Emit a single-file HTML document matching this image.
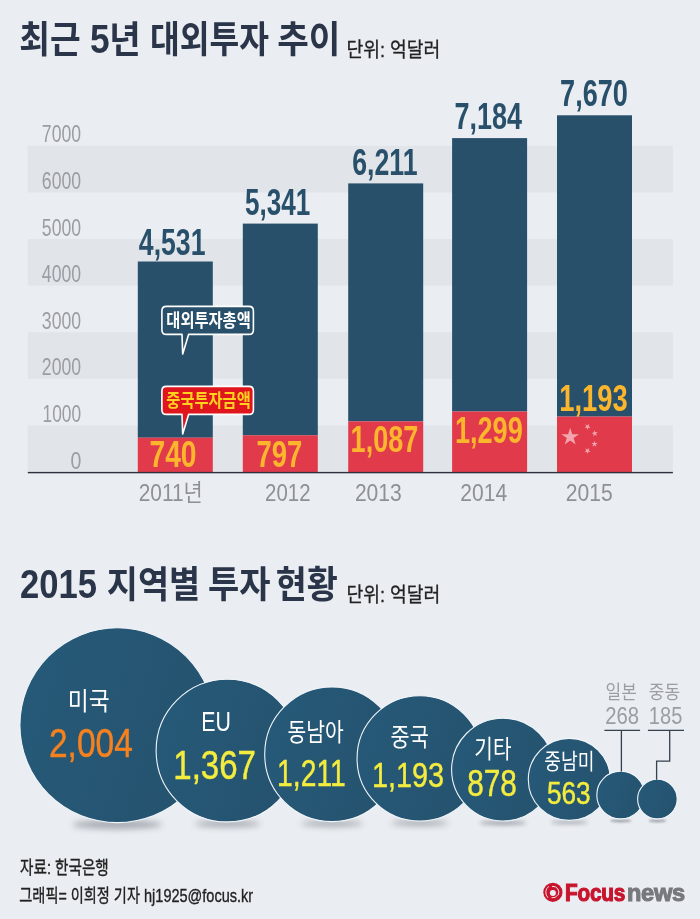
<!DOCTYPE html>
<html lang="ko">
<head>
<meta charset="utf-8">
<title>최근 5년 대외투자 추이</title>
<style>
html,body{margin:0;padding:0;background:#eaedf1}
svg{display:block}
text{font-family:"Liberation Sans","Noto Sans CJK KR",sans-serif}
</style>
</head>
<body>
<svg width="700" height="919" viewBox="0 0 700 919">
<defs>
<linearGradient id="cg" x1="0" y1="0" x2="1" y2="0.3"><stop offset="0" stop-color="#265a79"/><stop offset="1" stop-color="#25536f"/></linearGradient>
<filter id="sh1" x="-50%" y="-300%" width="200%" height="700%"><feGaussianBlur stdDeviation="1"/></filter>
<filter id="sh2" x="-50%" y="-300%" width="200%" height="700%"><feGaussianBlur stdDeviation="2"/></filter>
<filter id="sh3" x="-50%" y="-300%" width="200%" height="700%"><feGaussianBlur stdDeviation="3"/></filter>
</defs>
<rect x="27.8" y="145.8" width="645.1" height="46.6" fill="#e1e4e9"/>
<rect x="27.8" y="239.0" width="645.1" height="46.6" fill="#e1e4e9"/>
<rect x="27.8" y="332.2" width="645.1" height="46.6" fill="#e1e4e9"/>
<rect x="27.8" y="425.4" width="645.1" height="46.6" fill="#e1e4e9"/>
<rect x="137.8" y="261.5" width="75" height="176.2" fill="#28506a"/>
<rect x="137.8" y="437.7" width="75" height="34.5" fill="#e13a4b"/>
<rect x="242.8" y="223.6" width="75" height="211.7" fill="#28506a"/>
<rect x="242.8" y="435.3" width="75" height="36.9" fill="#e13a4b"/>
<rect x="348.2" y="183.4" width="75" height="238.0" fill="#28506a"/>
<rect x="348.2" y="421.4" width="75" height="50.8" fill="#e13a4b"/>
<rect x="452.1" y="138.1" width="75" height="273.4" fill="#28506a"/>
<rect x="452.1" y="411.5" width="75" height="60.7" fill="#e13a4b"/>
<rect x="557.0" y="115.3" width="75" height="301.3" fill="#28506a"/>
<rect x="557.0" y="416.6" width="75" height="55.6" fill="#e13a4b"/>
<rect x="27.8" y="471.9" width="645.1" height="1.4" fill="#2d313b"/>
<polygon points="570.20,427.70 572.29,434.13 579.04,434.13 573.58,438.10 575.67,444.52 570.20,440.55 564.73,444.52 566.82,438.10 561.36,434.13 568.11,434.13" fill="#f4a4ae"/>
<polygon points="589.15,423.84 588.65,426.19 590.73,427.39 588.34,427.64 587.84,429.98 586.87,427.79 584.49,428.04 586.27,426.44 585.29,424.25 587.37,425.45" fill="#f4a4ae"/>
<polygon points="594.13,430.25 595.25,432.37 597.61,431.95 595.95,433.68 597.07,435.79 594.92,434.74 593.25,436.47 593.59,434.09 591.43,433.04 593.79,432.62" fill="#f4a4ae"/>
<polygon points="594.50,440.70 595.24,442.98 597.64,442.98 595.70,444.39 596.44,446.67 594.50,445.26 592.56,446.67 593.30,444.39 591.36,442.98 593.76,442.98" fill="#f4a4ae"/>
<polygon points="589.15,447.94 588.65,450.29 590.73,451.49 588.34,451.74 587.84,454.08 586.87,451.89 584.49,452.14 586.27,450.54 585.29,448.35 587.37,449.55" fill="#f4a4ae"/>
<path d="M166.4,306.4 H248.9 Q253.4,306.4 253.4,310.9 V329.9 Q253.4,334.4 248.9,334.4 H188.6 L182.7,353.9 L182.0,334.4 H166.4 Q161.9,334.4 161.9,329.9 V310.9 Q161.9,306.4 166.4,306.4 Z" fill="#28506a" stroke="#fff" stroke-width="1.6" stroke-linejoin="round"/>
<path d="M166.4,386.4 H248.9 Q253.4,386.4 253.4,390.9 V409.9 Q253.4,414.4 248.9,414.4 H188.6 L182.7,433.9 L182.0,414.4 H166.4 Q161.9,414.4 161.9,409.9 V390.9 Q161.9,386.4 166.4,386.4 Z" fill="#e0161e" stroke="#fff" stroke-width="1.6" stroke-linejoin="round"/>
<ellipse cx="117.3" cy="824.5" rx="44.7" ry="4.4" fill="#3a4350" opacity="0.4" filter="url(#sh3)"/>
<ellipse cx="227.4" cy="823.8" rx="32.7" ry="3.2" fill="#3a4350" opacity="0.4" filter="url(#sh3)"/>
<ellipse cx="332.0" cy="823.5" rx="30.8" ry="3.0" fill="#3a4350" opacity="0.4" filter="url(#sh3)"/>
<ellipse cx="419.7" cy="822.9" rx="28.7" ry="2.8" fill="#3a4350" opacity="0.4" filter="url(#sh3)"/>
<ellipse cx="503.0" cy="822.9" rx="23.5" ry="2.3" fill="#3a4350" opacity="0.4" filter="url(#sh2)"/>
<ellipse cx="569.3" cy="822.3" rx="18.7" ry="1.8" fill="#3a4350" opacity="0.4" filter="url(#sh2)"/>
<ellipse cx="620.7" cy="820.8" rx="10.9" ry="1.6" fill="#3a4350" opacity="0.4" filter="url(#sh1)"/>
<ellipse cx="657.4" cy="820.8" rx="9.0" ry="1.6" fill="#3a4350" opacity="0.4" filter="url(#sh1)"/>
<circle cx="117.3" cy="725.2" r="97.40" fill="url(#cg)" stroke="#f1f6fa" stroke-width="1.1"/>
<circle cx="227.4" cy="750.6" r="71.30" fill="url(#cg)" stroke="#f1f6fa" stroke-width="1.1"/>
<circle cx="332.0" cy="754.3" r="67.30" fill="url(#cg)" stroke="#f1f6fa" stroke-width="1.1"/>
<circle cx="419.7" cy="758.4" r="62.65" fill="url(#cg)" stroke="#f1f6fa" stroke-width="1.1"/>
<circle cx="503.0" cy="769.6" r="51.40" fill="url(#cg)" stroke="#f1f6fa" stroke-width="1.1"/>
<circle cx="569.3" cy="779.4" r="41.00" fill="url(#cg)" stroke="#f1f6fa" stroke-width="1.1"/>
<circle cx="620.7" cy="795.0" r="23.90" fill="url(#cg)" stroke="#f1f6fa" stroke-width="1.1"/>
<circle cx="657.4" cy="799.1" r="19.80" fill="url(#cg)" stroke="#f1f6fa" stroke-width="1.1"/>
<path d="M604.4,730.4 H640.1 M647.9,730.4 H684 M621.4,730.4 V771.5 M669.7,730.4 V761.1 H656.6 V779.8" fill="none" stroke="#34414f" stroke-width="1.3"/>
<g id="logo-mark" transform="translate(552.9,892.3)">
<circle r="9.6" fill="#c8142d"/>
<circle cx="0" cy="0.6" r="3.0" fill="#eaedf1"/>
<path d="M-0.52,-5.98 A6.0,6.0 0 0 1 5.44,2.54" fill="none" stroke="#eaedf1" stroke-width="1.0" stroke-linecap="round"/>
<path d="M-5.16,5.16 A7.3,7.3 0 0 1 -4.49,-5.75" fill="none" stroke="#eaedf1" stroke-width="0.9" stroke-linecap="round"/>
<path d="M4.59,3.21 A5.6,5.6 0 0 1 -0.97,5.51" fill="none" stroke="#eaedf1" stroke-width="0.9" stroke-linecap="round"/>
</g>

<g id="labels">
<text transform="translate(19.30,52.70) scale(0.8985,1)" font-size="37.1" font-weight="bold" fill="#2a3549">최근</text>
<text transform="translate(89.93,52.70) scale(0.8842,1)" font-size="40" font-weight="bold" fill="#2a3549">5</text>
<text transform="translate(109.34,52.70) scale(0.9214,1)" font-size="37.1" font-weight="bold" fill="#2a3549">년</text>
<text transform="translate(149.96,52.70) scale(0.8724,1)" font-size="37.1" font-weight="bold" fill="#2a3549">대외투자</text>
<text transform="translate(277.27,52.70) scale(0.9254,1)" font-size="37.1" font-weight="bold" fill="#2a3549">추이</text>
<text transform="translate(346.41,57.00) scale(0.8941,1)" font-size="20.4" font-weight="normal" fill="#222" stroke="#222" stroke-width="0.3">단위: 억달러</text>
<text transform="translate(19.93,597.70) scale(0.8655,1)" font-size="40" font-weight="bold" fill="#2a3549">2015</text>
<text transform="translate(106.78,597.70) scale(0.9122,1)" font-size="37.1" font-weight="bold" fill="#2a3549">지역별</text>
<text transform="translate(207.88,597.70) scale(0.9167,1)" font-size="37.1" font-weight="bold" fill="#2a3549">투자</text>
<text transform="translate(275.68,597.70) scale(0.9108,1)" font-size="37.1" font-weight="bold" fill="#2a3549">현황</text>
<text transform="translate(346.41,602.00) scale(0.8941,1)" font-size="20.4" font-weight="normal" fill="#222" stroke="#222" stroke-width="0.3">단위: 억달러</text>
<text transform="translate(41.86,142.40) scale(0.7412,1)" font-size="23.8" font-weight="normal" fill="#9b9da4">7000</text>
<text transform="translate(41.86,189.00) scale(0.7412,1)" font-size="23.8" font-weight="normal" fill="#9b9da4">6000</text>
<text transform="translate(41.86,235.60) scale(0.7412,1)" font-size="23.8" font-weight="normal" fill="#9b9da4">5000</text>
<text transform="translate(41.86,282.20) scale(0.7412,1)" font-size="23.8" font-weight="normal" fill="#9b9da4">4000</text>
<text transform="translate(41.86,328.80) scale(0.7412,1)" font-size="23.8" font-weight="normal" fill="#9b9da4">3000</text>
<text transform="translate(41.86,375.40) scale(0.7412,1)" font-size="23.8" font-weight="normal" fill="#9b9da4">2000</text>
<text transform="translate(42.54,422.00) scale(0.7280,1)" font-size="23.8" font-weight="normal" fill="#9b9da4">1000</text>
<text transform="translate(70.48,468.60) scale(0.8182,1)" font-size="23.8" font-weight="normal" fill="#9b9da4">0</text>
<text transform="translate(138.87,254.70) scale(0.7256,1)" font-size="36.7" font-weight="bold" fill="#28506a">4,531</text>
<text transform="translate(244.99,215.30) scale(0.7111,1)" font-size="36.7" font-weight="bold" fill="#28506a">5,341</text>
<text transform="translate(352.17,174.80) scale(0.7273,1)" font-size="36.7" font-weight="bold" fill="#28506a">6,211</text>
<text transform="translate(454.43,129.10) scale(0.7356,1)" font-size="36.7" font-weight="bold" fill="#28506a">7,184</text>
<text transform="translate(560.12,106.30) scale(0.7386,1)" font-size="36.7" font-weight="bold" fill="#28506a">7,670</text>
<text transform="translate(149.46,467.20) scale(0.7690,1)" font-size="36.7" font-weight="bold" fill="#fbb62d">740</text>
<text transform="translate(256.40,466.80) scale(0.7483,1)" font-size="36.7" font-weight="bold" fill="#fbb62d">797</text>
<text transform="translate(350.62,451.60) scale(0.7375,1)" font-size="36.7" font-weight="bold" fill="#fbb62d">1,087</text>
<text transform="translate(454.92,443.40) scale(0.7382,1)" font-size="36.7" font-weight="bold" fill="#fbb62d">1,299</text>
<text transform="translate(559.21,410.80) scale(0.7449,1)" font-size="36.7" font-weight="bold" fill="#fbb62d">1,193</text>
<text transform="translate(138.70,501.20) scale(0.8956,1)" font-size="23.3" font-weight="normal" fill="#8e9097">2011년</text>
<text transform="translate(265.12,501.20) scale(0.8760,1)" font-size="23.3" font-weight="normal" fill="#8e9097">2012</text>
<text transform="translate(354.90,501.20) scale(0.9040,1)" font-size="23.3" font-weight="normal" fill="#8e9097">2013</text>
<text transform="translate(460.30,501.20) scale(0.9040,1)" font-size="23.3" font-weight="normal" fill="#8e9097">2014</text>
<text transform="translate(565.69,501.20) scale(0.9060,1)" font-size="23.3" font-weight="normal" fill="#8e9097">2015</text>
<text transform="translate(166.37,326.70) scale(0.8313,1)" font-size="18.4" font-weight="bold" fill="#fff">대외투자총액</text>
<text transform="translate(166.37,406.70) scale(0.8313,1)" font-size="18.4" font-weight="bold" fill="#ffd21f">중국투자금액</text>
<text transform="translate(67.77,710.20) scale(0.9163,1)" font-size="24.9" font-weight="normal" fill="#fff">미국</text>
<text transform="translate(48.96,756.60) scale(0.8192,1)" font-size="40.9" font-weight="normal" fill="#f5821f" stroke="#f5821f" stroke-width="0.45" stroke-linejoin="round">2,004</text>
<text transform="translate(201.15,731.20) scale(0.7765,1)" font-size="27.5" font-weight="normal" fill="#fff">EU</text>
<text transform="translate(173.27,778.60) scale(0.8103,1)" font-size="40.8" font-weight="normal" fill="#f4ec3e" stroke="#f4ec3e" stroke-width="0.45" stroke-linejoin="round">1,367</text>
<text transform="translate(287.59,741.20) scale(0.8149,1)" font-size="25" font-weight="normal" fill="#fff">동남아</text>
<text transform="translate(277.08,786.40) scale(0.7586,1)" font-size="37.3" font-weight="normal" fill="#f4ec3e" stroke="#f4ec3e" stroke-width="0.45" stroke-linejoin="round">1,211</text>
<text transform="translate(390.57,746.10) scale(0.8318,1)" font-size="25" font-weight="normal" fill="#fff">중국</text>
<text transform="translate(371.90,787.20) scale(0.8011,1)" font-size="36" font-weight="normal" fill="#f4ec3e" stroke="#f4ec3e" stroke-width="0.45" stroke-linejoin="round">1,193</text>
<text transform="translate(474.35,757.60) scale(0.8238,1)" font-size="24.5" font-weight="normal" fill="#fff">기타</text>
<text transform="translate(467.18,795.50) scale(0.8153,1)" font-size="36.5" font-weight="normal" fill="#f4ec3e" stroke="#f4ec3e" stroke-width="0.45" stroke-linejoin="round">878</text>
<text transform="translate(544.26,769.40) scale(0.8429,1)" font-size="21.6" font-weight="normal" fill="#fff">중남미</text>
<text transform="translate(546.97,804.40) scale(0.8320,1)" font-size="31.5" font-weight="normal" fill="#f4ec3e" stroke="#f4ec3e" stroke-width="0.45" stroke-linejoin="round">563</text>
<text transform="translate(605.60,698.80) scale(0.8970,1)" font-size="19" font-weight="normal" fill="#9b9da4">일본</text>
<text transform="translate(605.24,724.00) scale(0.8568,1)" font-size="23.7" font-weight="normal" fill="#9b9da4">268</text>
<text transform="translate(648.80,698.80) scale(0.8970,1)" font-size="19" font-weight="normal" fill="#9b9da4">중동</text>
<text transform="translate(648.81,724.00) scale(0.8472,1)" font-size="23.7" font-weight="normal" fill="#9b9da4">185</text>
<text transform="translate(20.00,874.40) scale(0.7865,1)" font-size="18.6" font-weight="normal" fill="#222" stroke="#222" stroke-width="0.35">자료: 한국은행</text>
<text transform="translate(19.24,902.30) scale(0.7643,1)" font-size="18.6" font-weight="normal" fill="#222" stroke="#222" stroke-width="0.35">그래픽= 이희정 기자</text>
<text transform="translate(144.02,902.30) scale(0.7806,1)" font-size="18.6" font-weight="normal" fill="#222" stroke="#222" stroke-width="0.35">hj1925@focus.kr</text>
<text transform="translate(565.12,901.20) scale(0.8806,1)" font-size="23.6" font-weight="bold" fill="#c8142d" stroke="#c8142d" stroke-width="1.1" letter-spacing="-0.3">Focus</text>
<text transform="translate(626.98,901.20) scale(1.0179,1)" font-size="23.2" font-weight="bold" fill="#77787d" stroke="#77787d" stroke-width="1.0" letter-spacing="-0.3">news</text>
</g>

</svg>
</body>
</html>
